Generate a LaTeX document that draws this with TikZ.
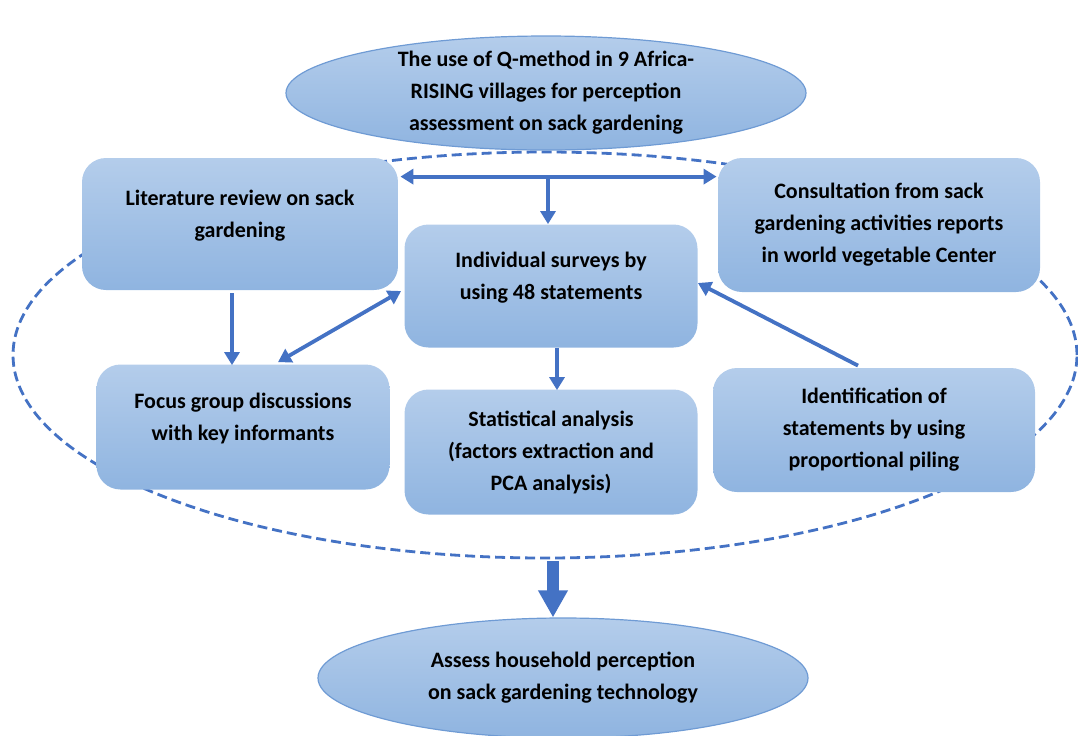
\documentclass[tikz,border=0pt]{standalone}
\usepackage{fontspec}
\setmainfont{Carlito}
\usepackage{tikz}
\usetikzlibrary{arrows.meta, positioning, shapes.geometric, calc}
\definecolor{boxtop}{HTML}{B4CDEB}
\definecolor{boxbot}{HTML}{8FB4E0}
\definecolor{arrcol}{HTML}{4472C4}
\definecolor{rimcol}{HTML}{6F9BD4}

\begin{document}
\begin{tikzpicture}[x=0.5pt, y=-0.5pt,
  box/.style={rectangle, rounded corners=12pt, top color=boxtop, bottom color=boxbot,
              align=center, font=\bfseries\fontsize{11}{16}\selectfont},
  lift/.style={text depth=10pt},
  oval/.style={ellipse, top color=boxtop, bottom color=boxbot, draw=rimcol, line width=0.6pt,
               align=center, inner xsep=0pt, inner ysep=-8pt, font=\bfseries\fontsize{11}{16}\selectfont},
  arr/.style={-{Triangle[length=6.5pt, width=7.5pt]}, line width=1.9pt, arrcol},
  dbl/.style={{Triangle[length=6.5pt, width=7.5pt]}-{Triangle[length=6.5pt, width=7.5pt]}, line width=1.9pt, arrcol},
  big/.style={-{Triangle[length=13.5pt, width=14pt]}, line width=6pt, arrcol}
]
\useasboundingbox (0,0) rectangle (1078,735);

% dashed frame round the work steps
\node[ellipse, draw=arrcol, line width=1.4pt, dash pattern=on 5pt off 2.5pt,
      minimum width=532pt, minimum height=203pt, inner sep=0pt] (loop) at (545,355) {};

\node[oval, minimum width=260pt, minimum height=57pt] (qmeth) at (546,93)
  {The use of Q-method in 9 Africa-\\RISING villages for perception\\assessment on sack gardening};

\node[box, lift, minimum width=158pt, minimum height=66pt] (lit) at (240,224) {Literature review on sack\\gardening};
\node[box, minimum width=161pt, minimum height=67pt] (cons) at (879,225) {Consultation from sack\\gardening activities reports\\in world vegetable Center};
\node[box, lift, minimum width=146.5pt, minimum height=61.5pt] (indiv) at (551,286) {Individual surveys by\\using 48 statements};
\node[box, lift, minimum width=146.5pt, minimum height=62.5pt] (focus) at (243,427) {Focus group discussions\\with key informants};
\node[box, minimum width=146.5pt, minimum height=62.5pt] (stat) at (551,452) {Statistical analysis\\(factors extraction and\\PCA analysis)};
\node[box, minimum width=161pt, minimum height=62pt] (ident) at (874,430) {Identification of\\statements by using\\proportional piling};

\node[oval, minimum width=245pt, minimum height=60pt] (assess) at (563,678)
  {Assess household perception\\on sack gardening technology};

% arrows
\draw[dbl] ($(lit.north east)+(2,19)$) -- ($(cons.north west)+(-1,19)$);
\coordinate (fork) at (548,177);
\draw[arr] (fork) -- (fork |- indiv.north);
\draw[arr] ($(lit.south)+(-8,3)$) -- ($(focus.north)+(-11,1)$);
\draw[dbl] ($(focus.north)+(35,-2)$) -- ($(indiv.west)+(-3,5)$);
\draw[arr] ($(indiv.south)+(6,0)$) -- ($(stat.north)+(6,1)$);
\draw[arr] ($(ident.north)+(-16,-2)$) -- ($(indiv.east)+(0,-3)$);
\coordinate (drop) at ($(loop.south)+(8,2)$);
\draw[big] (drop) -- (drop |- assess.north);
\end{tikzpicture}
\end{document}
